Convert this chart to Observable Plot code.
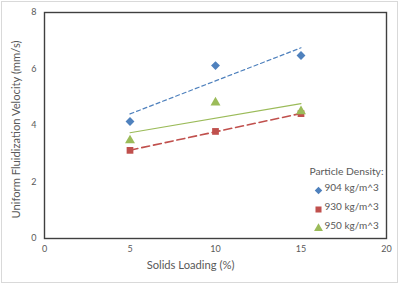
<!DOCTYPE html>
<html>
<head>
<meta charset="utf-8">
<script src="https://cdn.jsdelivr.net/npm/d3@7"></script>
<script src="https://cdn.jsdelivr.net/npm/@observablehq/plot@0.6"></script>
<style>
  html, body { margin: 0; padding: 0; background: #fff; }
  #wrap { position: relative; width: 401px; height: 284px; }
  #border { position: absolute; left: 1px; top: 1px; width: 395px; height: 280px; border: 1px solid #d9d9d9; pointer-events: none; }
</style>
</head>
<body>
<div id="wrap"><div id="chart"></div><div id="border"></div></div>
<script>
const loading = [5, 10, 15];
const v904 = [4.14, 6.12, 6.48];
const v930 = [3.12, 3.79, 4.42];
const v950 = [3.47, 4.81, 4.50];
const seriesNames = ["904 kg/m^3", "930 kg/m^3", "950 kg/m^3"];
const seriesColors = ["#4F81BD", "#C0504D", "#9BBB59"];
const seriesSymbols = ["diamond2", "square", "triangle"];
const xTicks = [0, 5, 10, 15, 20];
const yTicks = [0, 2, 4, 6, 8];
const legendTitle = "Particle Density:";
const xLabel = "Solids Loading (%)";
const yLabel = "Uniform Fluidization Velocity (mm/s)";

const values = [v904, v930, v950];
const series = values.map((vals, i) => loading.map((x, j) => ({x, y: vals[j], s: seriesNames[i]})));
const lineStyles = [
  {strokeWidth: 1.2, strokeDasharray: "4,3"},
  {strokeWidth: 1.6, strokeDasharray: "8,4"},
  {strokeWidth: 1.1}
];
const symbolR = [4.0, 3.8, 3.7];
const legendR = [3.4, 3.4, 3.3];
const font = "Lato, 'Open Sans', sans-serif";
const gray = "#595959";

const marks = [];
series.forEach((d, i) => {
  marks.push(Plot.linearRegressionY(d, {x: "x", y: "y", stroke: seriesColors[i], ci: 0, ...lineStyles[i]}));
});
series.forEach((d, i) => {
  marks.push(Plot.dot(d, {x: "x", y: "y", symbol: () => seriesSymbols[i], fill: seriesColors[i], r: symbolR[i], stroke: "none"}));
});
marks.push(Plot.frame({stroke: "#404040", strokeWidth: 1.4}));
marks.push(Plot.axisX({ticks: xTicks, tickSize: 0, tickPadding: 7, fontSize: 9, fill: gray, label: null, style: {letterSpacing: "1.5px"}}));
marks.push(Plot.axisY({ticks: yTicks, tickSize: 0, tickPadding: 8, fontSize: 9, fill: gray, label: null}));
marks.push(Plot.text([xLabel], {text: d => d, frameAnchor: "bottom", textAnchor: "middle", dx: -25, dy: 30, fontSize: 11.2, fill: gray, fontFamily: font}));
marks.push(Plot.text([yLabel], {text: d => d, frameAnchor: "left", textAnchor: "middle", rotate: -90, dx: -28, dy: 4, fontSize: 11.2, fill: gray, fontFamily: font}));
marks.push(Plot.text([legendTitle], {text: d => d, frameAnchor: "bottom-right", dx: -3, dy: -64, textAnchor: "end", fontSize: 10.3, fill: gray, fontFamily: font}));
seriesNames.forEach((name, i) => {
  const dy = [-48, -29, -10][i];
  marks.push(Plot.dot([name], {frameAnchor: "bottom-right", dx: -68, dy, symbol: () => seriesSymbols[i], fill: seriesColors[i], r: legendR[i], stroke: "none"}));
  marks.push(Plot.text([name], {text: d => d, frameAnchor: "bottom-right", dx: -62, dy, textAnchor: "start", fontSize: 10, fill: gray, fontFamily: font}));
});

const chart = Plot.plot({
  width: 401,
  height: 284,
  marginLeft: 44,
  marginRight: 15,
  marginTop: 12,
  marginBottom: 46,
  style: {fontFamily: font, background: "#fff", color: gray},
  x: {domain: [0, 20]},
  y: {domain: [0, 8]},
  marks
});
document.getElementById("chart").appendChild(chart);
</script>
</body>
</html>
